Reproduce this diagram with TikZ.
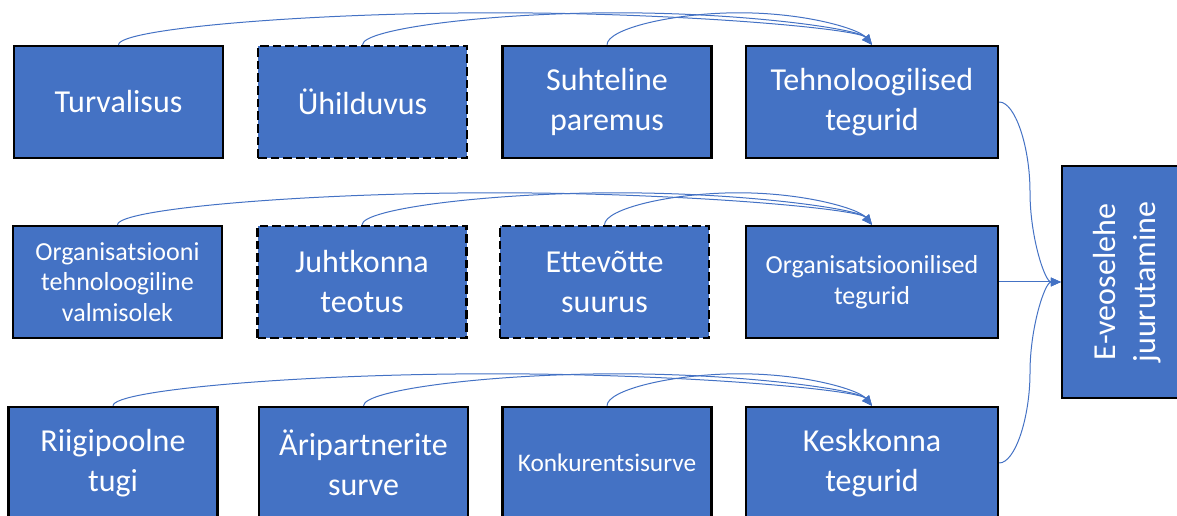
\documentclass[tikz,border=0pt]{standalone}
\usepackage{fontspec}
\setmainfont{Carlito}
\usetikzlibrary{arrows.meta,calc}
\definecolor{offblue}{HTML}{4472C4}
\tikzset{
  box/.style={draw=black, line width=1.8pt, fill=offblue, text=white, align=center,
    minimum width=156.75pt, minimum height=84pt, inner sep=2pt,
    font=\fontsize{24}{30}\selectfont},
  wide/.style={minimum width=189pt},
  dashbox/.style={dash pattern=on 6.5pt off 3pt},
  small/.style={font=\fontsize{19.5}{23}\selectfont},
  conn/.style={draw=offblue, line width=0.75pt, -{Triangle[length=7.5pt,width=6.5pt]}}
}
\newcommand\toparc[2]{%
  \draw[conn] let \p1=(#1.north), \p2=(#2.north) in
    (\p1) .. controls (\x1,\y1+12pt) and ({\x1+(\x2-\x1)/4},\y1+24pt) ..
    ({(\x1+\x2)/2},\y1+24pt) .. controls ({\x1+3*(\x2-\x1)/4},\y1+24pt) and ({\x2-10pt},\y2+12pt) .. (\p2);}
\begin{document}
\begin{tikzpicture}[x=0.75pt,y=-0.75pt]
\useasboundingbox (0,0) rectangle (1177,516);
\clip (0,0) rectangle (1177,516);
% row 1
\node[box] (a1) at (118.5,102) {Turvalisus};
\node[box,dashbox] (b1) at (362.5,102) {Ühilduvus};
\node[box] (c1) at (607,102) {Suhteline\\paremus};
\node[box,wide] (t1) at (872,102) {Tehnoloogilised\\tegurid};
% row 2
\node[box,small] (a2) at (117.5,282) {Organisatsiooni\\tehnoloogiline\\valmisolek};
\node[box,dashbox] (b2) at (362,282) {Juhtkonna\\teotus};
\node[box,dashbox] (c2) at (604.5,282) {Ettevõtte\\suurus};
\node[box,wide,small] (t2) at (872,282) {Organisatsioonilised\\tegurid};
% row 3
\node[box] (a3) at (113,463) {Riigipoolne\\tugi};
\node[box] (b3) at (363.5,463) {Äripartnerite\\surve};
\node[box,font=\fontsize{19}{23}\selectfont] (c3) at (607,463) {Konkurentsisurve};
\node[box,wide] (t3) at (872,463) {Keskkonna\\tegurid};
% target
\node[box,minimum width=97.5pt,minimum height=174pt] (E) at (1127,282)
  {\rotatebox{90}{\begin{tabular}{@{}c@{}}E-veoselehe\\juurutamine\end{tabular}}};
% top arcs
\toparc{a1}{t1}\toparc{b1}{t1}\toparc{c1}{t1}
\toparc{a2}{t2}\toparc{b2}{t2}\toparc{c2}{t2}
\toparc{a3}{t3}\toparc{b3}{t3}\toparc{c3}{t3}
% to target
\draw[conn] (t1.east) .. controls +(16,0) and +(0,-45) .. ($(t1.east)!0.5!(E.west)$)
  .. controls +(0,45) and +(-16,0) .. (E.west);
\draw[conn] (t2.east) -- (E.west);
\draw[conn] (t3.east) .. controls +(16,0) and +(0,45) .. ($(t3.east)!0.5!(E.west)$)
  .. controls +(0,-45) and +(-16,0) .. (E.west);
\end{tikzpicture}
\end{document}
